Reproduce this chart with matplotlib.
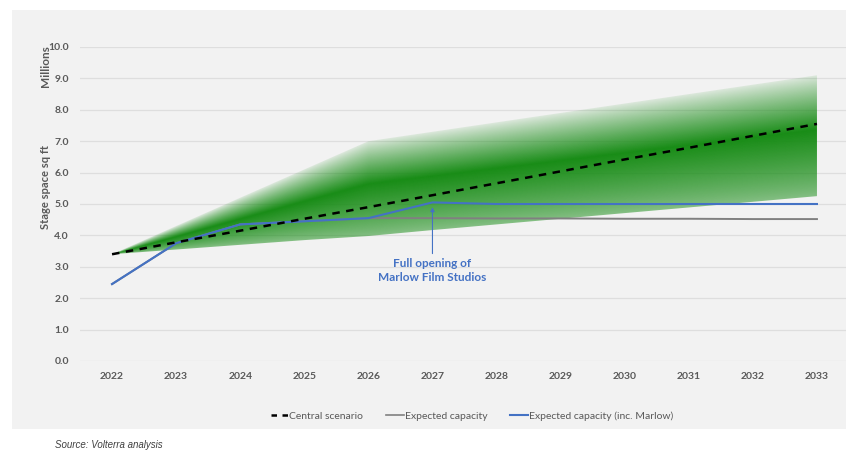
import matplotlib
matplotlib.use('Agg')
import matplotlib.pyplot as plt
import numpy as np
from matplotlib.lines import Line2D

plt.rcParams['font.family'] = ['Lato', 'DejaVu Sans']

years = [2022, 2023, 2024, 2025, 2026, 2027, 2028, 2029, 2030, 2031, 2032, 2033]
central = [3.40, 3.78, 4.15, 4.53, 4.90, 5.28, 5.66, 6.04, 6.42, 6.79, 7.17, 7.55]
band_high = [3.40, 4.30, 5.20, 6.10, 7.00, 7.30, 7.60, 7.90, 8.20, 8.50, 8.80, 9.10]
band_low = [3.40, 3.55, 3.70, 3.85, 3.98, 4.17, 4.35, 4.53, 4.71, 4.89, 5.07, 5.25]
capacity = [2.45, 3.75, 4.35, 4.45, 4.55, 4.55, 4.54, 4.54, 4.53, 4.53, 4.52, 4.52]
capacity_marlow = [2.45, 3.75, 4.35, 4.45, 4.55, 5.05, 5.00, 5.00, 5.00, 5.00, 5.00, 5.00]

panel = '#f2f2f2'
tick_col = '#595959'
blue = '#4472c4'

fig = plt.figure(figsize=(8.46, 4.5), dpi=100)
fig.patch.set_facecolor('white')

# grey chart area behind everything
bg = fig.add_axes([12 / 846, 1 - 429 / 450, 1, 419 / 450], zorder=-1)
bg.set_facecolor(panel)
bg.set_xticks([])
bg.set_yticks([])
for s in bg.spines.values():
    s.set_visible(False)

ax = fig.add_axes([80 / 846, 1 - 361 / 450, 769 / 846, 314 / 450], zorder=2)
ax.set_facecolor('none')
ax.set_xlim(2021.5, 2033.5)
ax.set_ylim(0, 10)
ax.set_yticks(np.arange(0, 10.1, 1))
ax.set_yticklabels([f'{v:.1f}' for v in np.arange(0, 10.1, 1)])
ax.set_xticks(years)
ax.grid(axis='y', color='#dedede', linewidth=0.9)
ax.set_axisbelow(True)
for s in ax.spines.values():
    s.set_visible(False)
ax.tick_params(length=0, labelsize=7.5, labelcolor=tick_col, pad=8)
for lab in ax.get_xticklabels() + ax.get_yticklabels():
    lab.set_fontweight('bold')

# shaded scenario range: dark just above the middle, fading out to the edges
poly = ax.fill_between(years, band_low, band_high, color='none', linewidth=0)
gx = np.linspace(2022, 2033, 600)
gy = np.linspace(0, 10, 600)
X, Y = np.meshgrid(gx, gy)
lo = np.interp(X, years, band_low)
hi = np.interp(X, years, band_high)
f = np.clip((Y - lo) / np.maximum(hi - lo, 1e-6), 0, 1)
peak = 0.55
below = 0.5 + 0.5 * (f / peak) ** 0.8
above = 0.1 + 0.9 * ((1 - f) / (1 - peak)) ** 0.9
alpha = np.where(f < peak, below, above)
rgba = np.zeros(X.shape + (4,))
rgba[..., 0] = 24 / 255
rgba[..., 1] = 140 / 255
rgba[..., 2] = 22 / 255
rgba[..., 3] = np.clip(alpha, 0, 1)
img = ax.imshow(rgba, extent=(2022, 2033, 0, 10), origin='lower',
                aspect='auto', interpolation='bilinear', zorder=1)
img.set_clip_path(poly.get_paths()[0], transform=ax.transData)

ax.plot(years, capacity, color='#808080', linewidth=1.4, zorder=3)
ax.plot(years, capacity_marlow, color=blue, linewidth=1.5, zorder=4)
ax.plot(years, central, color='black', linewidth=1.8, dashes=(3, 2.6), zorder=5)

ax.annotate('', xy=(2027, 4.9), xytext=(2027, 3.42),
            arrowprops=dict(arrowstyle='-|>', color=blue, lw=0.8,
                            mutation_scale=6, shrinkA=0, shrinkB=0), zorder=6)
ax.text(2027, 2.88, 'Full opening of\nMarlow Film Studios', color=blue,
        fontsize=8.5, fontweight='bold', ha='center', va='center',
        linespacing=1.35, zorder=6)

fig.text(45 / 846, 1 - 66 / 450, 'Millions', rotation=90, ha='center',
         va='center', fontsize=8.5, color=tick_col, fontweight='bold')
fig.text(45 / 846, 1 - 187 / 450, 'Stage space sq ft', rotation=90,
         ha='center', va='center', fontsize=8, color=tick_col,
         fontweight='bold')

handles = [
    Line2D([], [], color='black', linewidth=1.8, dashes=(2.2, 2.2)),
    Line2D([], [], color='#808080', linewidth=1.2),
    Line2D([], [], color=blue, linewidth=1.5),
]
labels = ['Central scenario', 'Expected capacity', 'Expected capacity (inc. Marlow)']
leg = fig.legend(handles, labels, loc='center', ncol=3,
                 bbox_to_anchor=(472 / 846, 1 - 416 / 450), frameon=False,
                 fontsize=7.5, handlelength=1.7, handletextpad=0.1,
                 columnspacing=2.2)
for txt in leg.get_texts():
    txt.set_color(tick_col)

fig.text(55 / 846, 1 - 445 / 450, 'Source: Volterra analysis',
         family='Liberation Sans', style='italic', fontsize=7,
         color='#404040', ha='left', va='center')

fig.savefig('out.png', dpi=100, facecolor='white')
